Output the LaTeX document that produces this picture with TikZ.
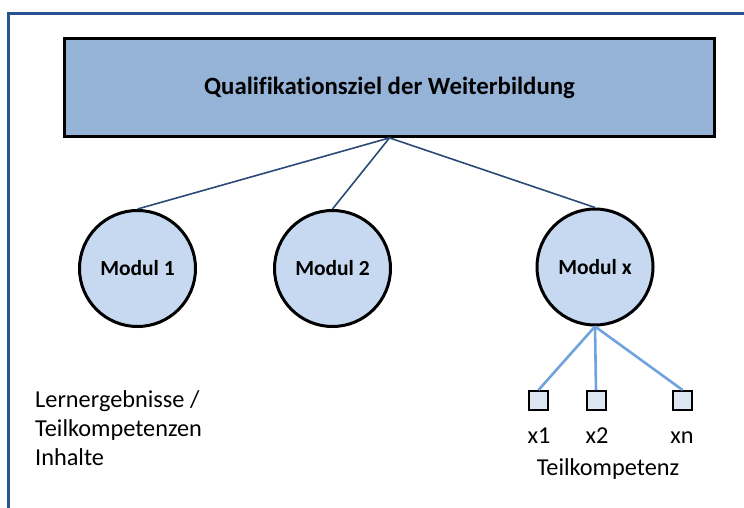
\documentclass[tikz,border=0pt]{standalone}
\usepackage{fontspec}
\setmainfont{Carlito}[Ligatures=NoCommon]
\definecolor{framec}{HTML}{2A5290}
\definecolor{rectfill}{HTML}{95B3D7}
\definecolor{circfill}{HTML}{C6D9F1}
\definecolor{sqfill}{HTML}{DCE6F2}
\definecolor{darkline}{HTML}{2C4A78}
\definecolor{lightline}{HTML}{6FA3DE}
\tikzset{
  goalbox/.style={draw=black, line width=2.8pt, fill=rectfill, minimum width=650pt, minimum height=98pt, inner sep=0pt, font=\fontsize{24.8}{29}\selectfont\bfseries},
  modcircle/.style={circle, draw=black, line width=3pt, fill=circfill, minimum size=116pt, inner sep=0pt, font=\fontsize{21.5}{26}\selectfont\bfseries},
  subsq/.style={draw=black, line width=2pt, fill=sqfill, minimum size=19pt, inner sep=0pt},
  lbl/.style={inner sep=0pt, font=\fontsize{24.3}{29}\selectfont, text=black},
  treeline/.style={draw=darkline, line width=1.6pt},
  subline/.style={draw=lightline, line width=2.6pt},
  framel/.style={draw=framec, line width=3pt}
}
\begin{document}
\begin{tikzpicture}[x=1pt,y=-1pt]
\useasboundingbox (0,0) rectangle (744,508);
\fill[white] (0,0) rectangle (744,508);
% frame
\coordinate (ftl) at (8,13.5);
\coordinate (ftr) at (746,13.5);
\coordinate (fbl) at (8,510);
\draw[framel] (ftr) -- (ftl) -- (fbl);
% goal box
\node[goalbox] (goal) at (389.5,87.5) {Qualifikationsziel der Weiterbildung};
% modules
\node[modcircle] (m1) at (137.5,268.5) {Modul 1};
\node[modcircle] (m2) at (332.5,268.5) {Modul 2};
\node[modcircle] (mx) at (595,267) {Modul x};
\draw[treeline] (goal.south) -- (m1.north);
\draw[treeline] (goal.south) -- (m2.north);
\draw[treeline] (goal.south) -- (mx.north);
% sub squares
\node[subsq] (s1) at (538.5,400.5) {};
\node[subsq] (s2) at (596,400.5) {};
\node[subsq] (sn) at (682.5,400.5) {};
\draw[subline] (mx.south) -- (s1.north);
\draw[subline] (mx.south) -- (s2.north);
\draw[subline] (mx.south) -- (sn.north);
% labels
\node[lbl, anchor=base] (l1) at (539,443) {x1};
\node[lbl, anchor=base] (l2) at (597,443) {x2};
\node[lbl, anchor=base] (ln) at (682,443) {xn};
\node[lbl, anchor=base] (tk) at (608,475) {Teilkompetenz};
\node[lbl, anchor=base west] (le1) at (35,407) {Lernergebnisse /};
\node[lbl, anchor=base west] (le2) at (35,436) {Teilkompetenzen};
\node[lbl, anchor=base west] (le3) at (35,465) {Inhalte};
\end{tikzpicture}
\end{document}
